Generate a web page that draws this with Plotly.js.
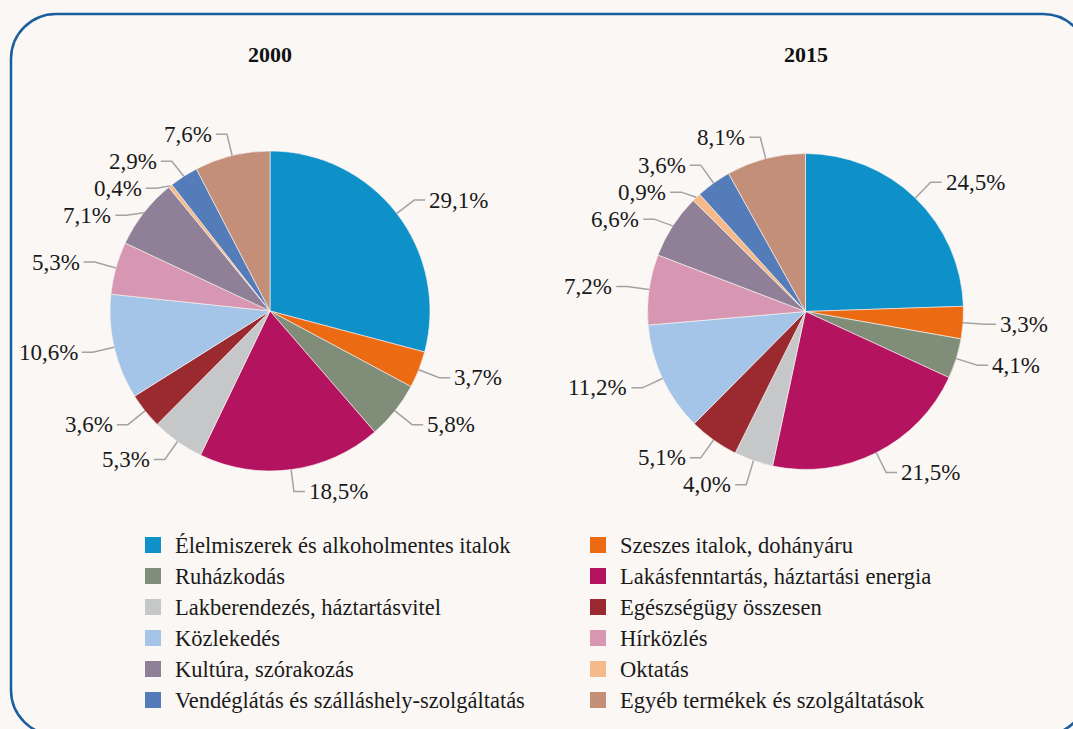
<!DOCTYPE html>
<html><head><meta charset="utf-8">
<script src="https://cdn.plot.ly/plotly-3.0.1.min.js"></script>
<style>html,body{margin:0;padding:0;background:#FAF7F5;} #chart{width:1073px;height:729px;}</style>
</head><body><div id="chart"></div>
<script>
const categories = [
  'Élelmiszerek és alkoholmentes italok',
  'Szeszes italok, dohányáru',
  'Ruházkodás',
  'Lakásfenntartás, háztartási energia',
  'Lakberendezés, háztartásvitel',
  'Egészségügy összesen',
  'Közlekedés',
  'Hírközlés',
  'Kultúra, szórakozás',
  'Oktatás',
  'Vendéglátás és szálláshely-szolgáltatás',
  'Egyéb termékek és szolgáltatások'
];
const colors = ['#0E91C9','#EB6A12','#808D79','#B4145F','#C6C7C9','#9B2A30','#A4C5E7','#D797B2','#8F8097','#F6B98A','#547CB8','#C48F78'];
const years = ['2000', '2015'];
const values2000 = [29.1, 3.7, 5.8, 18.5, 5.3, 3.6, 10.6, 5.3, 7.1, 0.4, 2.9, 7.6];
const values2015 = [24.5, 3.3, 4.1, 21.5, 4.0, 5.1, 11.2, 7.2, 6.6, 0.9, 3.6, 8.1];

const W = 1073, H = 729;
const BG = '#FAF7F5';
const FONT = 'Liberation Serif';
const px = x => x / W;
const py = y => 1 - y / H;
const fmt = v => v.toFixed(1).replace('.', ',') + '%';

const pies = [
  {cx: 270, cy: 311, r: 160, vals: values2000, title: years[0]},
  {cx: 805.5, cy: 311.5, r: 158, vals: values2015, title: years[1]}
];

const data = [];
const shapes = [];
const annotations = [];

pies.forEach(p => {
  data.push({
    type: 'pie', values: p.vals, labels: categories, sort: false,
    direction: 'clockwise', rotation: 0, textinfo: 'none', hoverinfo: 'label+value',
    showlegend: false,
    marker: {colors: colors, line: {color: BG, width: 0.6}},
    domain: {x: [px(p.cx - p.r), px(p.cx + p.r)], y: [py(p.cy + p.r), py(p.cy - p.r)]}
  });
  annotations.push({xref: 'paper', yref: 'paper', x: px(p.cx), y: py(55), text: '<b>' + p.title + '</b>',
    showarrow: false, font: {family: FONT, size: 22, color: '#111'}, xanchor: 'center', yanchor: 'middle'});

  const total = p.vals.reduce((a, b) => a + b, 0);
  let cum = 0;
  const labs = p.vals.map(v => {
    const a = (cum + v / 2) / total * 2 * Math.PI;
    cum += v;
    const s = Math.sin(a), c = Math.cos(a);
    return {v, side: s >= 0 ? 1 : -1,
      x0: p.cx + p.r * s, y0: p.cy - p.r * c,
      x1: p.cx + (p.r + 22) * s, y1: p.cy - (p.r + 22) * c};
  });
  [1, -1].forEach(side => {
    const g = labs.filter(l => l.side === side).sort((a, b) => a.y1 - b.y1);
    let prev = -1e9;
    g.forEach(l => { l.y = Math.max(l.y1, prev + 27); prev = l.y; });
  });
  labs.forEach(l => {
    const x2 = l.x1 + l.side * 11;
    shapes.push({type: 'path', xref: 'paper', yref: 'paper',
      path: `M${px(l.x0)},${py(l.y0)} L${px(l.x1)},${py(l.y)} L${px(x2)},${py(l.y)}`,
      line: {color: '#A3A3A3', width: 1.5}});
    annotations.push({xref: 'paper', yref: 'paper', x: px(x2 + l.side * 2), y: py(l.y),
      text: fmt(l.v), showarrow: false, xanchor: l.side > 0 ? 'left' : 'right', yanchor: 'middle',
      font: {family: FONT, size: 23, color: '#1a1a1a'}});
  });
});

// legend (two columns, row-major)
const colX = [145, 590];
categories.forEach((cat, i) => {
  const row = Math.floor(i / 2), col = i % 2;
  const cy = 545 + row * 31;
  shapes.push({type: 'rect', xref: 'paper', yref: 'paper',
    x0: px(colX[col]), x1: px(colX[col] + 16), y0: py(cy + 8), y1: py(cy - 8),
    fillcolor: colors[i], line: {width: 0}});
  annotations.push({xref: 'paper', yref: 'paper', x: px(colX[col] + 28), y: py(cy),
    text: cat, showarrow: false, xanchor: 'left', yanchor: 'middle',
    font: {family: FONT, size: 22.5, color: '#1a1a1a'}});
});

// rounded frame
(function () {
  const L = 11, T = 14, R = 1088, B = 735, rad = 45, k = 0.5523 * rad;
  const P = (x, y) => `${px(x)},${py(y)}`;
  const path = `M${P(L + rad, T)} L${P(R - rad, T)} C${P(R - rad + k, T)} ${P(R, T + rad - k)} ${P(R, T + rad)} ` +
    `L${P(R, B - rad)} C${P(R, B - rad + k)} ${P(R - rad + k, B)} ${P(R - rad, B)} ` +
    `L${P(L + rad, B)} C${P(L + rad - k, B)} ${P(L, B - rad + k)} ${P(L, B - rad)} ` +
    `L${P(L, T + rad)} C${P(L, T + rad - k)} ${P(L + rad - k, T)} ${P(L + rad, T)} Z`;
  shapes.unshift({type: 'path', xref: 'paper', yref: 'paper', path, line: {color: '#1B5E9E', width: 2.5}, layer: 'below'});
})();

const layout = {
  width: W, height: H, margin: {l: 0, r: 0, t: 0, b: 0},
  paper_bgcolor: BG, plot_bgcolor: BG, showlegend: false,
  shapes, annotations, font: {family: FONT}
};
Plotly.newPlot('chart', data, layout, {displayModeBar: false, staticPlot: true});
</script>
</body></html>
